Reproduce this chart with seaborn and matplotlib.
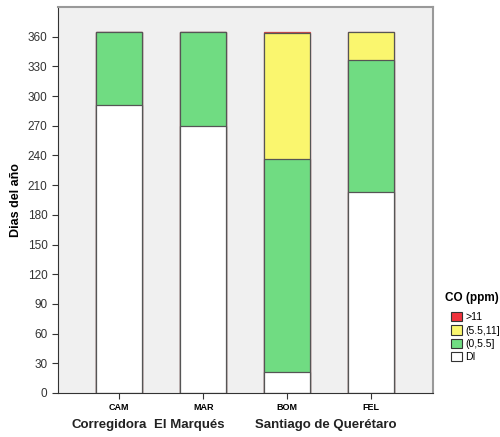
import pandas as pd
import seaborn as sns
import matplotlib.pyplot as plt
from matplotlib.patches import Patch

stations = ["CAM", "MAR", "BOM", "FEL"]
municipios = ["Corregidora", "El Marqués", "Santiago de Querétaro"]
categorias = ["DI", "(0,5.5]", "(5.5,11]", ">11"]
dias_di = [291, 270, 21, 203]
dias_bajo = [74, 95, 215, 133]
dias_medio = [0, 0, 128, 29]
dias_alto = [0, 0, 1, 0]
colores = ["#ffffff", "#70dc82", "#faf66e", "#f0323c"]
bordes = ["#555555", "#555555", "#555555", "#d04848"]
yticks = list(range(0, 361, 30))

df = pd.DataFrame({"estacion": stations, "DI": dias_di, "(0,5.5]": dias_bajo,
                   "(5.5,11]": dias_medio, ">11": dias_alto})
acum = df[categorias].cumsum(axis=1)

plt.rcParams['font.family'] = ['Liberation Sans', 'DejaVu Sans']
fig = plt.figure(figsize=(5.0, 4.37), dpi=100)
ax = fig.add_axes([0.116, 0.1007, 0.75, 0.8833])
ax.set_facecolor("#f0f0f0")

# stacked bars: draw cumulative totals from the top category down
for cat, col, ec in reversed(list(zip(categorias, colores, bordes))):
    sns.barplot(x=df["estacion"], y=acum[cat], color=col, width=0.55,
                edgecolor=ec, linewidth=0.9, saturation=1, ax=ax)

ax.set_xlim(-0.73, 3.74)
ax.set_ylim(0, 390)
ax.set_yticks(yticks)
ax.tick_params(axis="y", labelsize=8.5, labelcolor="#333333", length=4, color="#333333")
ax.tick_params(axis="x", labelsize=6.5, length=4, color="#333333")
for lbl in ax.get_xticklabels():
    lbl.set_fontweight("bold")
ax.set_xlabel("")
ax.set_ylabel("Dias del año", fontsize=9, fontweight="bold")
for side in ["top", "right"]:
    ax.spines[side].set_color("#999999")
    ax.spines[side].set_linewidth(1.5)
for side in ["left", "bottom"]:
    ax.spines[side].set_color("#333333")

for name, xc in zip(municipios, [109, 189, 326]):
    fig.text(xc / 500, 1 - 425 / 437, name, ha="center", va="center",
             fontsize=9.5, fontweight="bold", color="#222222")

fig.text(445 / 500, 1 - 298 / 437, "CO (ppm)", ha="left", va="center",
         fontsize=8.5, fontweight="bold")
handles = [Patch(facecolor=c, edgecolor="#333333", linewidth=0.8) for c in colores]
fig.legend(handles[::-1], categorias[::-1],
           loc="upper left", bbox_to_anchor=(451 / 500, 1 - 312 / 437),
           frameon=False, fontsize=7.5, handlelength=1.1, handleheight=1.0,
           handletextpad=0.25, labelspacing=0.3, borderpad=0, borderaxespad=0)

fig.savefig("out.png", dpi=100)
